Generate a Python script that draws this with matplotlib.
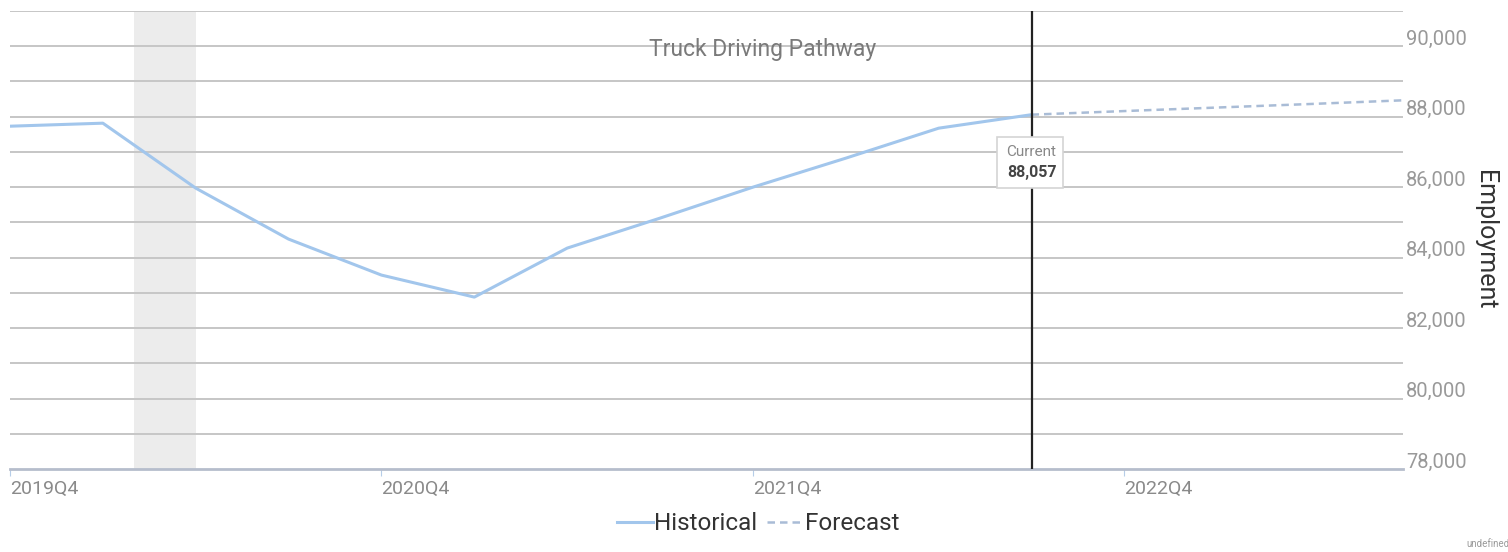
import matplotlib.pyplot as plt
from matplotlib.patches import Rectangle
from matplotlib import transforms

plt.rcParams['font.family'] = ['Roboto', 'DejaVu Sans']

# quarters counted from 2019Q4
hist_x = [0, 1, 2, 3, 4, 5, 6, 7, 8, 9, 10, 11]
hist_y = [87730, 87816, 85972, 84525, 83504, 82879, 84270, 85121, 86000, 86823, 87674, 88057]
fc_x = [11, 12, 13, 14, 15]
fc_y = [88057, 88160, 88260, 88360, 88465]
tick_pos = [0, 4, 8, 12]
tick_labels = ['2019Q4', '2020Q4', '2021Q4', '2022Q4']
y_ticks = [78000, 80000, 82000, 84000, 86000, 88000, 90000]
recession = (1.33, 2.0)
current_q = 11
current_val = 88057

fig = plt.figure(figsize=(15.08, 5.52), dpi=100)
ax = fig.add_axes([10 / 1508, 83 / 552, 1393 / 1508, 458 / 552])

ax.set_xlim(0, 15)
ax.set_ylim(78000, 91000)

# gridlines every 1000
for v in range(79000, 91001, 1000):
    ax.axhline(v, color='#c6c6c6', lw=1.4, zorder=1)

ax.axvspan(recession[0], recession[1], color='#ececec', zorder=0.5, lw=0)

ax.plot(hist_x, hist_y, color='#a2c6ec', lw=2.2, zorder=3, label='Historical')
ax.plot(fc_x, fc_y, color='#a9bcd6', lw=1.8, ls=(0, (3, 2)), zorder=3, label='Forecast')

ax.axvline(current_q, color='#222222', lw=1.6, zorder=4)

for s in ['top', 'left', 'right']:
    ax.spines[s].set_visible(False)
ax.spines['bottom'].set_color('#b6bdcc')
ax.spines['bottom'].set_linewidth(2)

ax.set_xticks(tick_pos)
ax.set_xticklabels(tick_labels, ha='left', color='#8a8a8a', fontsize=14)
ax.tick_params(axis='x', length=5, color='#b6cde8', pad=3)

ax.yaxis.tick_right()
ax.set_yticks(y_ticks)
ax.set_yticklabels([f'{v:,}' for v in y_ticks], color='#999999', fontsize=14.5)
ax.tick_params(axis='y', length=0, pad=2)
off = transforms.ScaledTranslation(0, 9 / 100, fig.dpi_scale_trans)
for lab in ax.get_yticklabels():
    lab.set_transform(lab.get_transform() + off)

ax.yaxis.set_label_position('right')
ax.set_ylabel('Employment', rotation=-90, fontsize=18, color='#333333', labelpad=22)

ax.text(0.54, 0.917, 'Truck Driving Pathway', transform=ax.transAxes, ha='center',
        va='center', fontsize=16.5, color='#7a7a7a', zorder=5)

# current value tag
ax.add_patch(Rectangle((10.63, 85976), 0.71, 1448, fc='white', ec='#d4d4d4', lw=1.2, zorder=6))
ax.text(current_q, 87000, 'Current', ha='center', va='center', fontsize=11,
        color='#888888', zorder=7)
ax.text(current_q, 86430, f'{current_val:,}', ha='center', va='center', fontsize=11.5,
        color='#444444', fontweight='bold', zorder=7)

leg = ax.legend(loc='center', bbox_to_anchor=(0.537, -0.12), ncol=2, frameon=False,
                fontsize=17.5, handlelength=1.5, handletextpad=0.05, columnspacing=0.4)
for t in leg.get_texts():
    t.set_color('#333333')

fig.text(1466 / 1508, 3 / 552, 'undefined', fontsize=7, color='#999999', ha='left', va='bottom')

fig.savefig('out.png', dpi=100)
